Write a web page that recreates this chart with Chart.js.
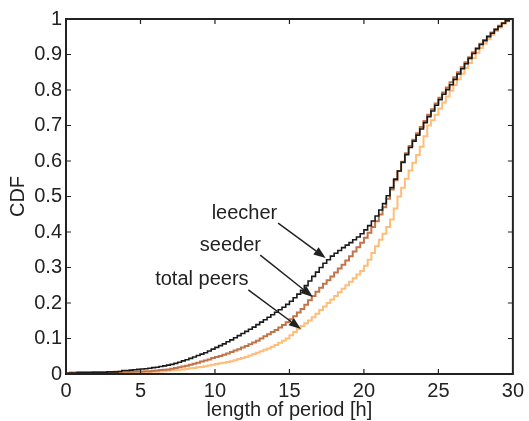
<!DOCTYPE html>
<html>
<head>
<meta charset="utf-8">
<script src="https://cdn.jsdelivr.net/npm/chart.js@4/dist/chart.umd.min.js"></script>
<style>
  body { margin: 0; background: #fff; }
  #wrap { width: 529px; height: 421px; }
</style>
</head>
<body>
<div id="wrap"><canvas id="myChart" width="529" height="421"></canvas></div>
<script>
// hours (x), one row per hour
const hours = [
    0, 0.25, 0.5, 0.75, 1, 1.25, 1.5, 1.75, 2, 2.25, 2.5, 2.75, 3, 3.25, 3.5, 3.75,
    4, 4.25, 4.5, 4.75, 5, 5.25, 5.5, 5.75, 6, 6.25, 6.5, 6.75, 7, 7.25, 7.5, 7.75,
    8, 8.25, 8.5, 8.75, 9, 9.25, 9.5, 9.75, 10, 10.25, 10.5, 10.75, 11, 11.25, 11.5, 11.75,
    12, 12.25, 12.5, 12.75, 13, 13.25, 13.5, 13.75, 14, 14.25, 14.5, 14.75, 15, 15.25, 15.5, 15.75,
    16, 16.25, 16.5, 16.75, 17, 17.25, 17.5, 17.75, 18, 18.25, 18.5, 18.75, 19, 19.25, 19.5, 19.75,
    20, 20.25, 20.5, 20.75, 21, 21.25, 21.5, 21.75, 22, 22.25, 22.5, 22.75, 23, 23.25, 23.5, 23.75,
    24, 24.25, 24.5, 24.75, 25, 25.25, 25.5, 25.75, 26, 26.25, 26.5, 26.75, 27, 27.25, 27.5, 27.75,
    28, 28.25, 28.5, 28.75, 29, 29.25, 29.5, 29.75, 30];

const leecher = [
    0.001, 0.002, 0.003, 0.003, 0.004, 0.004, 0.004, 0.004, 0.005, 0.005, 0.005, 0.005, 0.006, 0.006, 0.006, 0.007,
    0.010, 0.010, 0.011, 0.012, 0.013, 0.014, 0.015, 0.016, 0.018, 0.019, 0.021, 0.023, 0.025, 0.027, 0.030, 0.033,
    0.037, 0.040, 0.044, 0.048, 0.052, 0.056, 0.060, 0.065, 0.070, 0.075, 0.080, 0.085, 0.091, 0.096, 0.102, 0.108,
    0.114, 0.120, 0.126, 0.132, 0.139, 0.146, 0.153, 0.160, 0.167, 0.174, 0.181, 0.188, 0.196, 0.205, 0.215, 0.225,
    0.236, 0.249, 0.262, 0.275, 0.287, 0.300, 0.312, 0.322, 0.332, 0.340, 0.348, 0.356, 0.363, 0.370, 0.378, 0.386,
    0.395, 0.406, 0.418, 0.431, 0.445, 0.462, 0.480, 0.502, 0.525, 0.549, 0.572, 0.596, 0.618, 0.638, 0.656, 0.673,
    0.690, 0.708, 0.725, 0.741, 0.757, 0.773, 0.788, 0.801, 0.815, 0.830, 0.845, 0.860, 0.874, 0.889, 0.903, 0.916,
    0.928, 0.939, 0.950, 0.960, 0.970, 0.979, 0.988, 0.995, 1.000];

const seeder = [
    0.002, 0.003, 0.004, 0.004, 0.005, 0.005, 0.005, 0.005, 0.005, 0.005, 0.005, 0.005, 0.005, 0.005, 0.006, 0.006,
    0.006, 0.006, 0.006, 0.006, 0.007, 0.007, 0.008, 0.008, 0.009, 0.010, 0.011, 0.012, 0.013, 0.015, 0.017, 0.019,
    0.021, 0.023, 0.026, 0.029, 0.032, 0.035, 0.038, 0.041, 0.045, 0.048, 0.051, 0.054, 0.058, 0.062, 0.066, 0.070,
    0.075, 0.079, 0.084, 0.089, 0.094, 0.100, 0.106, 0.112, 0.118, 0.124, 0.131, 0.138, 0.146, 0.154, 0.163, 0.173,
    0.183, 0.195, 0.208, 0.220, 0.232, 0.243, 0.254, 0.264, 0.275, 0.286, 0.297, 0.308, 0.320, 0.332, 0.345, 0.357,
    0.370, 0.384, 0.398, 0.414, 0.430, 0.449, 0.470, 0.494, 0.520, 0.546, 0.572, 0.598, 0.622, 0.642, 0.660, 0.678,
    0.696, 0.713, 0.730, 0.746, 0.762, 0.778, 0.793, 0.807, 0.822, 0.836, 0.850, 0.864, 0.878, 0.892, 0.906, 0.918,
    0.930, 0.941, 0.952, 0.962, 0.972, 0.981, 0.989, 0.995, 1.000];

const totalPeers = [
    0.001, 0.001, 0.002, 0.002, 0.002, 0.002, 0.002, 0.002, 0.003, 0.003, 0.003, 0.003, 0.003, 0.003, 0.003, 0.003,
    0.003, 0.003, 0.004, 0.004, 0.004, 0.004, 0.005, 0.005, 0.006, 0.006, 0.007, 0.008, 0.009, 0.010, 0.011, 0.012,
    0.013, 0.014, 0.016, 0.017, 0.019, 0.020, 0.022, 0.024, 0.026, 0.028, 0.030, 0.032, 0.034, 0.036, 0.039, 0.042,
    0.045, 0.048, 0.052, 0.056, 0.060, 0.064, 0.068, 0.072, 0.077, 0.082, 0.088, 0.094, 0.100, 0.109, 0.118, 0.127,
    0.135, 0.143, 0.151, 0.160, 0.170, 0.180, 0.190, 0.200, 0.210, 0.220, 0.230, 0.240, 0.250, 0.260, 0.270, 0.280,
    0.290, 0.305, 0.322, 0.341, 0.360, 0.378, 0.395, 0.414, 0.435, 0.466, 0.500, 0.525, 0.550, 0.573, 0.595, 0.617,
    0.640, 0.670, 0.700, 0.715, 0.730, 0.748, 0.765, 0.782, 0.798, 0.814, 0.830, 0.846, 0.862, 0.876, 0.890, 0.904,
    0.918, 0.931, 0.943, 0.955, 0.966, 0.976, 0.986, 0.994, 1.000];

const xTicks = [0, 5, 10, 15, 20, 25, 30];
const yTicks = [0, 0.1, 0.2, 0.3, 0.4, 0.5, 0.6, 0.7, 0.8, 0.9, 1];

// text labels with arrows, in data units: [label, textX, textY, fromX, fromY, toX, toY]
const notes = [
    ['leecher', 11.98, 0.453, 14.24, 0.425, 17.43, 0.327],
    ['seeder', 11.04, 0.363, 13.04, 0.335, 16.57, 0.217],
    ['total peers', 9.12, 0.265, 12.24, 0.237, 15.77, 0.127]
];

const FONT = '"Liberation Sans", Arial, sans-serif';
const INK = '#222';

function pts(ys) {
    return hours.map(function (h, i) { return { x: h, y: ys[i] }; });
}

const frame = {
    id: 'frame',
    afterDatasetsDraw(chart) {
        const ctx = chart.ctx;
        const a = chart.chartArea;
        const x = chart.scales.x;
        const y = chart.scales.y;
        ctx.save();
        ctx.strokeStyle = INK;
        ctx.lineWidth = 2;
        ctx.strokeRect(a.left, a.top, a.right - a.left, a.bottom - a.top);
        ctx.lineWidth = 1.2;
        ctx.beginPath();
        xTicks.slice(1, -1).forEach(function (v) {
            const px = x.getPixelForValue(v);
            ctx.moveTo(px, a.bottom); ctx.lineTo(px, a.bottom - 5);
            ctx.moveTo(px, a.top); ctx.lineTo(px, a.top + 5);
        });
        yTicks.slice(1, -1).forEach(function (v) {
            const py = y.getPixelForValue(v);
            ctx.moveTo(a.left, py); ctx.lineTo(a.left + 5, py);
            ctx.moveTo(a.right, py); ctx.lineTo(a.right - 5, py);
        });
        ctx.stroke();

        // annotations
        ctx.font = '20px ' + FONT;
        ctx.fillStyle = INK;
        ctx.textAlign = 'center';
        ctx.textBaseline = 'middle';
        notes.forEach(function (n) {
            ctx.fillText(n[0], x.getPixelForValue(n[1]), y.getPixelForValue(n[2]));
            const x0 = x.getPixelForValue(n[3]), y0 = y.getPixelForValue(n[4]);
            const x1 = x.getPixelForValue(n[5]), y1 = y.getPixelForValue(n[6]);
            const ang = Math.atan2(y1 - y0, x1 - x0);
            const hl = 12, hw = 4.5;
            const bx = x1 - hl * Math.cos(ang), by = y1 - hl * Math.sin(ang);
            ctx.strokeStyle = INK;
            ctx.lineWidth = 1.5;
            ctx.beginPath();
            ctx.moveTo(x0, y0);
            ctx.lineTo(bx, by);
            ctx.stroke();
            ctx.beginPath();
            ctx.moveTo(x1, y1);
            ctx.lineTo(bx + hw * Math.sin(ang), by - hw * Math.cos(ang));
            ctx.lineTo(bx - hw * Math.sin(ang), by + hw * Math.cos(ang));
            ctx.closePath();
            ctx.fill();
        });
        ctx.restore();
    }
};

const ctx = document.getElementById('myChart').getContext('2d');

new Chart(ctx, {
    type: 'line',
    data: {
        datasets: [
            {
                label: 'leecher',
                data: pts(leecher),
                borderColor: '#1a1a1a',
                borderWidth: 1.6,
                stepped: 'after',
                pointRadius: 0,
                order: 0
            },
            {
                label: 'seeder',
                data: pts(seeder),
                borderColor: '#c27449',
                borderWidth: 2,
                stepped: 'after',
                pointRadius: 0,
                order: 1
            },
            {
                label: 'total peers',
                data: pts(totalPeers),
                borderColor: '#ffbd7a',
                borderWidth: 2,
                stepped: 'after',
                pointRadius: 0,
                order: 2
            }
        ]
    },
    options: {
        responsive: false,
        animation: false,
        layout: { padding: { top: 19, right: 12, left: 0, bottom: 0 } },
        plugins: {
            legend: { display: false },
            tooltip: { enabled: false }
        },
        scales: {
            x: {
                type: 'linear',
                min: 0,
                max: 30,
                afterBuildTicks: function (s) { s.ticks = xTicks.map(function (v) { return { value: v }; }); },
                afterFit: function (s) { s.height = 47; },
                grid: { display: false, drawTicks: false },
                border: { display: false },
                ticks: { padding: 5, color: INK, font: { family: FONT, size: 20 }, maxRotation: 0 },
                title: { display: true, text: 'length of period [h]', color: INK, font: { family: FONT, size: 20 }, padding: { top: 0, bottom: -1 } }
            },
            y: {
                min: 0,
                max: 1,
                afterBuildTicks: function (s) { s.ticks = yTicks.map(function (v) { return { value: v }; }); },
                afterFit: function (s) { s.width = 66; },
                grid: { display: false, drawTicks: false },
                border: { display: false },
                ticks: {
                    padding: 4, color: INK, font: { family: FONT, size: 20 },
                    callback: function (v) { return String(Math.round(v * 10) / 10); }
                },
                title: { display: true, text: 'CDF', color: INK, font: { family: FONT, size: 20 }, padding: { top: 6, bottom: 0 } }
            }
        }
    },
    plugins: [frame]
});
</script>
</body>
</html>
